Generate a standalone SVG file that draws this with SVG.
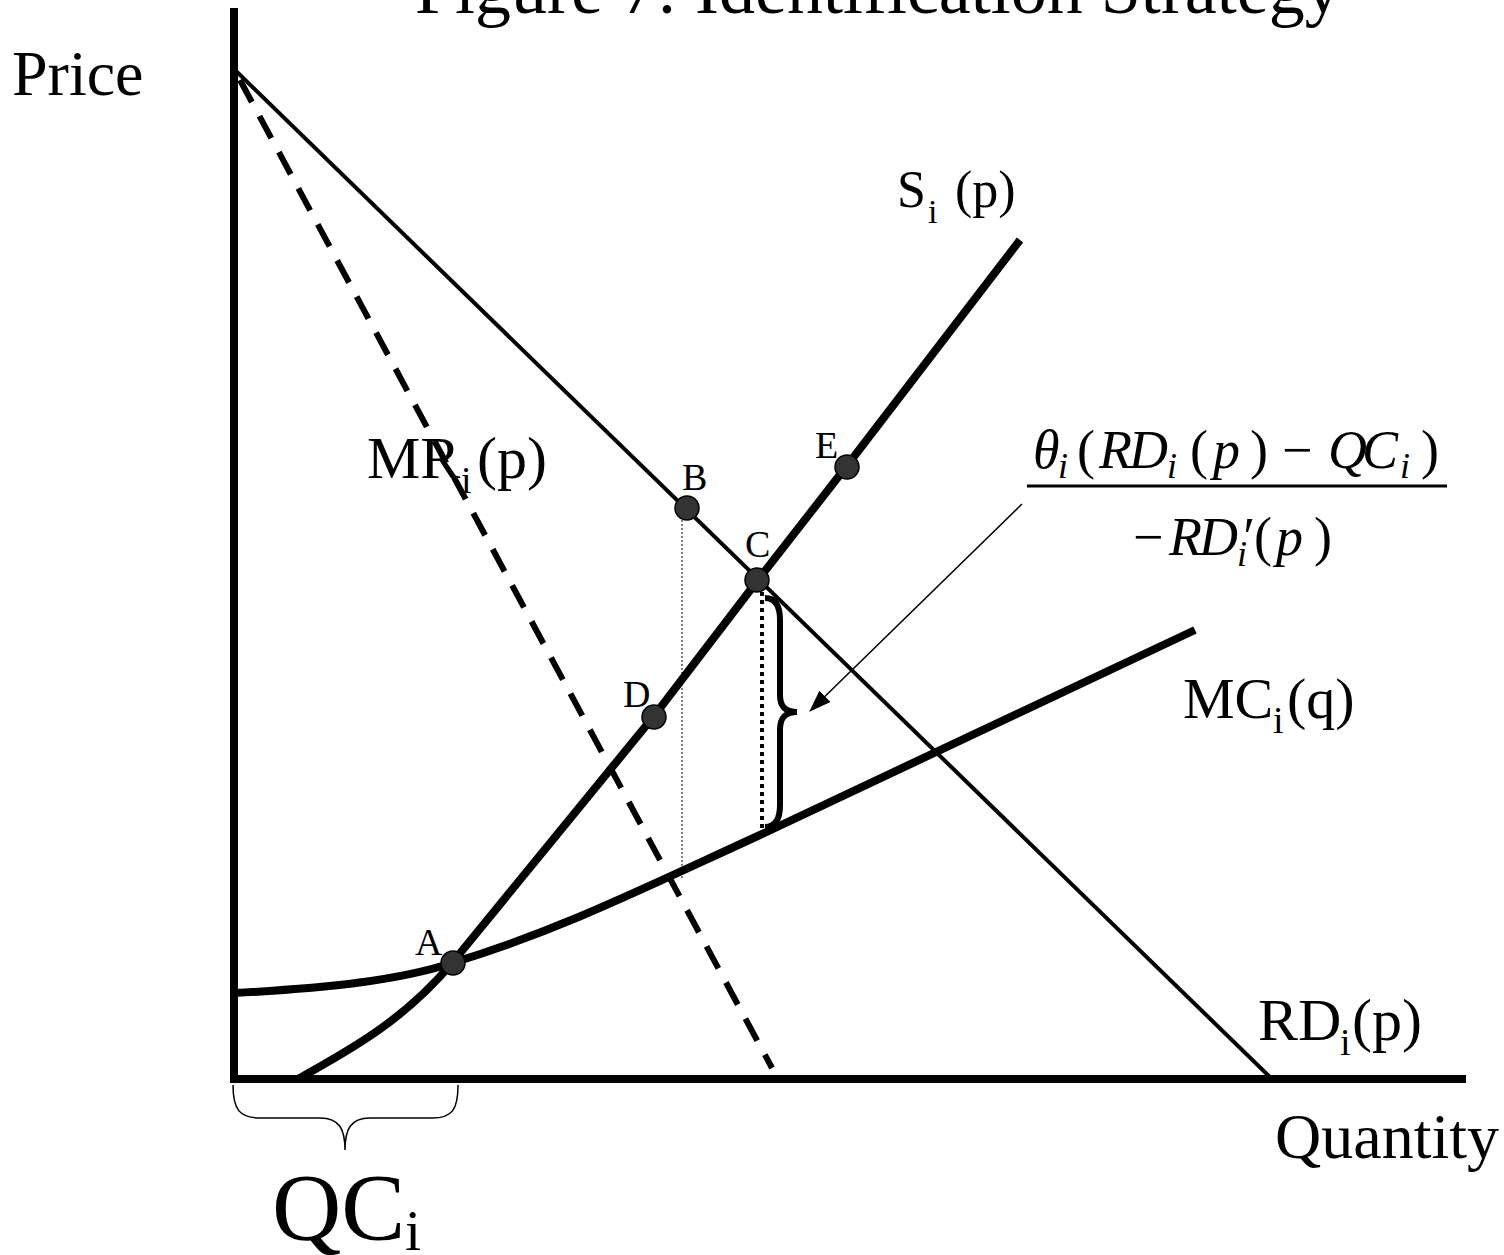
<svg xmlns="http://www.w3.org/2000/svg" width="1504" height="1255" viewBox="0 0 1504 1255">
<style>
text{font-family:"Liberation Serif","Times New Roman",serif;fill:#000}
.it{font-style:italic}
.ln{fill:none;stroke:#000;stroke-linecap:butt}
.pt{fill:#333;stroke:#000;stroke-width:1.5}
.lbl{font-size:38px}
</style>
<defs>
<marker id="ah" markerWidth="22" markerHeight="16" refX="21" refY="8" orient="auto" markerUnits="userSpaceOnUse" viewBox="0 0 22 16">
<path d="M0,0 L22,8 L0,16 Z" fill="#000"/>
</marker>
</defs>
<rect width="1504" height="1255" fill="#fff"/>
<text id="title" x="415" y="13" font-size="72">Figure 7: Identification Strategy</text>
<g id="axes">
<line class="ln" x1="234" y1="8" x2="234" y2="1083" stroke-width="8"/>
<line class="ln" x1="230" y1="1079" x2="1466" y2="1079" stroke-width="8"/>
<text x="12" y="95" font-size="64">Price</text>
<text x="1275" y="1158" font-size="64">Quantity</text>
</g>
<g id="connectors">
<line id="rd" class="ln" x1="237" y1="72" x2="1272" y2="1079" stroke-width="4"/>
<line id="mr" class="ln" x1="240" y1="80" x2="772" y2="1068" stroke-width="6" stroke-dasharray="25 16"/>
<path id="mc" class="ln" d="M234,993 C330,988 400,980 452,963 C560,930 640,890 760,835 L1195,630" stroke-width="8"/>
<path id="s" class="ln" d="M298,1079 C340,1055 400,1025 452,963 L654,716 L758,580 L846,467 L1020,240" stroke-width="8" stroke-linejoin="round"/>
<line class="ln" x1="682" y1="520" x2="682" y2="880" stroke-width="1" stroke-dasharray="2 2"/>
<line class="ln" x1="762" y1="592" x2="762" y2="837" stroke-width="4" stroke-dasharray="4 4"/>
<path id="brace" class="ln" d="M765,598 C775,598 780,605 780,620 L780,695 C780,706 785,712 797,712 C785,712 780,718 780,730 L780,805 C780,820 775,827 765,827" stroke-width="6"/>
<line id="arrow" class="ln" x1="1022" y1="504" x2="810" y2="711" stroke-width="1.5" marker-end="url(#ah)"/>
<path id="qcbrace" class="ln" d="M233,1085 C233,1110 240,1118 260,1118 L320,1118 C340,1118 345,1130 345,1150 C345,1130 350,1118 370,1118 L432,1118 C452,1118 458,1110 458,1085" stroke-width="1.5"/>
</g>
<g id="pointA"><circle class="pt" cx="453" cy="963" r="12"/><text class="lbl" x="415" y="955">A</text></g>
<g id="pointB"><circle class="pt" cx="687" cy="508" r="12"/><text class="lbl" x="682" y="490">B</text></g>
<g id="pointC"><circle class="pt" cx="757" cy="580" r="12"/><text class="lbl" x="745" y="557">C</text></g>
<g id="pointD"><circle class="pt" cx="654" cy="717" r="12"/><text class="lbl" x="623" y="707">D</text></g>
<g id="pointE"><circle class="pt" cx="847" cy="467" r="12"/><text class="lbl" x="815" y="458">E</text></g>
<g id="labelS"><text x="897" y="207" font-size="52">S</text><text x="928" y="223" font-size="34">i</text><text x="955" y="207" font-size="52">(p)</text></g>
<g id="labelMR"><text x="367" y="478" font-size="60">MR</text><text x="461" y="493" font-size="38">i</text><text x="477" y="478" font-size="60">(p)</text></g>
<g id="labelMC"><text x="1183" y="718" font-size="58">MC</text><text x="1273" y="733" font-size="38">i</text><text x="1287" y="718" font-size="58">(q)</text></g>
<g id="labelRD"><text x="1258" y="1040" font-size="60">RD</text><text x="1340" y="1055" font-size="38">i</text><text x="1352" y="1040" font-size="60">(p)</text></g>
<g id="labelQC"><text x="272" y="1240" font-size="96">QC</text><text x="405" y="1250" font-size="58">i</text></g>
<g id="formula">
<line x1="1027" y1="486" x2="1447" y2="486" stroke="#000" stroke-width="3"/>
<text y="468" font-size="54"><tspan class="it" x="1033">θ</tspan><tspan x="1077">(</tspan><tspan class="it" x="1099">R</tspan><tspan class="it" x="1129">D</tspan><tspan x="1190">(</tspan><tspan class="it" x="1213">p</tspan><tspan x="1250">)</tspan><tspan x="1282">−</tspan><tspan class="it" x="1328">Q</tspan><tspan class="it" x="1362">C</tspan><tspan x="1421">)</tspan></text>
<text y="478" font-size="36" class="it"><tspan x="1058">i</tspan><tspan x="1167">i</tspan><tspan x="1400">i</tspan></text>
<text y="555" font-size="54"><tspan x="1133">−</tspan><tspan class="it" x="1169">R</tspan><tspan class="it" x="1199">D</tspan><tspan class="it" x="1240">′</tspan><tspan x="1254">(</tspan><tspan class="it" x="1276">p</tspan><tspan x="1314">)</tspan></text>
<text y="566" font-size="36" class="it" x="1237">i</text>
</g>
</svg>
